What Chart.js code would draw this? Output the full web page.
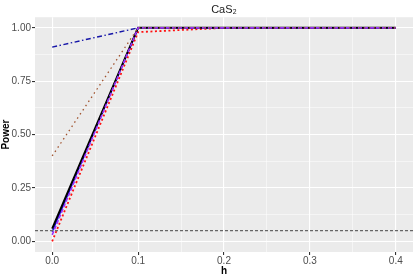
<!DOCTYPE html>
<html>
<head>
<meta charset="utf-8">
<script src="https://cdn.jsdelivr.net/npm/chart.js@4"></script>
<style>
  html, body { margin: 0; padding: 0; background: #fff; }
  #wrap { width: 415px; height: 277px; }
</style>
</head>
<body>
<div id="wrap"><canvas id="chart"></canvas></div>
<script>
var hValues = [0, 0.1, 0.2, 0.3, 0.4];
var powerBlack = [0.06, 1, 1, 1, 1];
var powerBlue = [0.045, 1, 1, 1, 1];
var powerPurple = [0.03, 1, 1, 1, 1];
var powerRed = [0.0, 0.98, 1, 1, 1];
var powerBrown = [0.40, 1, 1, 1, 1];
var powerDashDot = [0.91, 1, 1, 1, 1];
var alphaLevel = 0.05;
var xTicks = [0, 0.1, 0.2, 0.3, 0.4];
var yTicks = [0, 0.25, 0.5, 0.75, 1];

function pts(ys) {
  return hValues.map(function(h, i) { return { x: h, y: ys[i] }; });
}

var panelBg = {
  id: 'panelBg',
  beforeDraw: function(chart) {
    var a = chart.chartArea, ctx = chart.ctx;
    ctx.save();
    ctx.fillStyle = '#EBEBEB';
    ctx.fillRect(a.left, a.top, a.right - a.left, a.bottom - a.top);
    ctx.restore();
  }
};

function withMinor(major) {
  var out = [];
  for (var i = 0; i < major.length; i++) {
    out.push(major[i]);
    if (i < major.length - 1) out.push((major[i] + major[i + 1]) / 2);
  }
  return out;
}
function isMajor(v, major) {
  return major.some(function(m) { return Math.abs(m - v) < 1e-9; });
}

var tickFont = { family: 'Liberation Sans', size: 10 };
var axisTitleFont = { family: 'Liberation Sans', size: 10, weight: 'bold' };

new Chart(document.getElementById('chart'), {
  type: 'line',
  data: {
    datasets: [
      { data: [{ x: -0.02, y: alphaLevel }, { x: 0.42, y: alphaLevel }], borderColor: '#666666', borderWidth: 1.2, borderDash: [3, 2] },
      { data: pts(powerBrown), borderColor: '#A0522D', borderWidth: 1.3, borderDash: [1.5, 3.5] },
      { data: pts(powerPurple), borderColor: '#9B30FF', borderWidth: 1.6, borderDash: [4, 2] },
      { data: pts(powerBlack), borderColor: '#000000', borderWidth: 2 },
      { data: pts(powerBlue), borderColor: '#1010E0', borderWidth: 1.5 },
      { data: pts(powerRed), borderColor: '#FF1010', borderWidth: 1.8, borderDash: [2, 2.5] },
      { data: pts(powerDashDot), borderColor: '#1515A8', borderWidth: 1.4, borderDash: [5, 2.5, 1.5, 2.5] }
    ]
  },
  options: {
    animation: false,
    responsive: true,
    maintainAspectRatio: false,
    layout: { padding: { top: 0, right: 2, bottom: 0, left: 0 } },
    elements: { point: { radius: 0 }, line: { tension: 0 } },
    plugins: {
      legend: { display: false },
      tooltip: { enabled: false },
      title: {
        display: true,
        text: 'CaS\u2082',
        color: '#1A1A1A',
        font: { family: 'Liberation Sans', size: 11, weight: 'normal' },
        padding: { top: 3, bottom: 1 },
        fullSize: false
      }
    },
    scales: {
      x: {
        type: 'linear',
        min: -0.02,
        max: 0.42,
        afterBuildTicks: function(s) { s.ticks = withMinor(xTicks).map(function(v) { return { value: v }; }); },
        afterFit: function(s) { s.height = 25; },
        ticks: {
          autoSkip: false,
          maxRotation: 0,
          color: '#4D4D4D',
          font: tickFont,
          padding: 0,
          callback: function(v) { return isMajor(v, xTicks) ? v.toFixed(1) : ''; }
        },
        grid: {
          color: '#FFFFFF',
          lineWidth: function(c) { return c.tick && isMajor(c.tick.value, xTicks) ? 1.1 : 0.5; },
          tickLength: 3,
          tickColor: function(c) { return c.tick && isMajor(c.tick.value, xTicks) ? '#333333' : 'rgba(0,0,0,0)'; }
        },
        border: { display: false },
        title: { display: true, text: 'h', color: '#000', font: axisTitleFont, padding: { top: 0, bottom: 0 } }
      },
      y: {
        type: 'linear',
        min: -0.05,
        max: 1.05,
        afterBuildTicks: function(s) { s.ticks = withMinor(yTicks).map(function(v) { return { value: v }; }); },
        afterFit: function(s) { s.width = 35; },
        ticks: {
          autoSkip: false,
          color: '#4D4D4D',
          font: tickFont,
          padding: 1,
          callback: function(v) { return isMajor(v, yTicks) ? v.toFixed(2) : ''; }
        },
        grid: {
          color: '#FFFFFF',
          lineWidth: function(c) { return c.tick && isMajor(c.tick.value, yTicks) ? 1.1 : 0.5; },
          tickLength: 3,
          tickColor: function(c) { return c.tick && isMajor(c.tick.value, yTicks) ? '#333333' : 'rgba(0,0,0,0)'; }
        },
        border: { display: false },
        title: { display: true, text: 'Power', color: '#000', font: axisTitleFont, padding: { top: 0, bottom: 0 } }
      }
    }
  },
  plugins: [panelBg]
});
</script>
</body>
</html>
